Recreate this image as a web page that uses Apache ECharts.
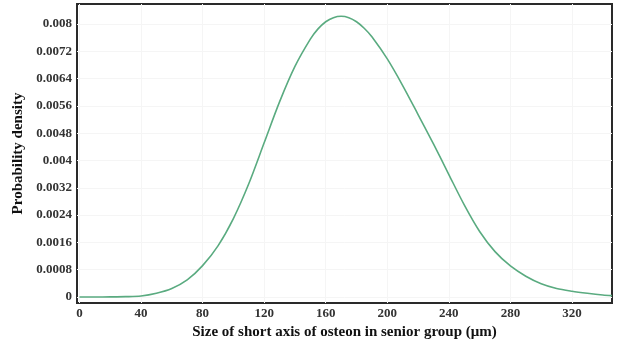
<!DOCTYPE html>
<html>
<head>
<meta charset="utf-8">
<script src="https://cdn.jsdelivr.net/npm/echarts@6/dist/echarts.min.js"></script>
<style>html,body{margin:0;padding:0;background:#fff}#c{width:618px;height:342px}</style>
</head>
<body>
<div id="c"></div>
<script>
// Curve sample points
const sizes = [0, 10, 20, 30, 40, 50, 60, 70, 80, 90, 100, 110, 120, 130, 140, 150, 155, 160, 165, 170, 175, 180, 185, 190, 200, 210, 220, 230, 240, 250, 260, 270, 280, 290, 300, 310, 320, 330, 340, 346];
const density = [0, 0, 0.000003, 0.00001, 0.00003, 0.00011, 0.00025, 0.00050, 0.00092, 0.00150, 0.00230, 0.00332, 0.00452, 0.00572, 0.00676, 0.00756, 0.00786, 0.00807, 0.00819, 0.00823, 0.00819, 0.00807, 0.00788, 0.00763, 0.00698, 0.00620, 0.00535, 0.00449, 0.00359, 0.00270, 0.00192, 0.00133, 0.00091, 0.00061, 0.00039, 0.00025, 0.00017, 0.00011, 0.00006, 0.00004];
const xTicks = [0, 40, 80, 120, 160, 200, 240, 280, 320];
const yTicks = [0, 0.0008, 0.0016, 0.0024, 0.0032, 0.004, 0.0048, 0.0056, 0.0064, 0.0072, 0.008];
const xTitle = 'Size of short axis of osteon in senior group (μm)';
const yTitle = 'Probability density';

const chart = echarts.init(document.getElementById('c'), null, {renderer: 'canvas'});
const font = 'Liberation Serif';
const fmtY = v => {
  for (const t of yTicks) if (Math.abs(t - v) < 1e-9) return String(t);
  return '';
};
chart.setOption({
  animation: false,
  backgroundColor: '#fff',
  grid: {left: 77, right: 6, top: 4, bottom: 39, outerBoundsMode: 'none', containLabel: false, show: true, borderColor: '#2a2a2a', borderWidth: 2, backgroundColor: 'transparent'},
  xAxis: {
    type: 'value', min: -1.6, max: 346,
    name: xTitle, nameLocation: 'middle', nameGap: 20,
    nameTextStyle: {fontFamily: font, fontWeight: 'bold', fontSize: 15, color: '#111'},
    axisLine: {show: false},
    axisTick: {show: false, customValues: xTicks},
    axisLabel: {customValues: xTicks, fontFamily: font, fontWeight: 'bold', fontSize: 13, color: '#333', margin: 4},
    splitLine: {show: true, lineStyle: {color: '#f5f5f5', width: 1}}
  },
  yAxis: {
    type: 'value', min: -0.000176, max: 0.00859,
    name: yTitle, nameLocation: 'middle', nameGap: 51, nameRotate: 90,
    nameTextStyle: {fontFamily: font, fontWeight: 'bold', fontSize: 15, color: '#111'},
    axisLine: {show: false},
    axisTick: {show: false, customValues: yTicks},
    axisLabel: {customValues: yTicks, formatter: fmtY, fontFamily: font, fontWeight: 'bold', fontSize: 13, color: '#333', margin: 5},
    splitLine: {show: true, lineStyle: {color: '#f5f5f5', width: 1}}
  },
  series: [{
    type: 'line',
    data: sizes.map((s, i) => [s, density[i]]),
    smooth: 0.3,
    showSymbol: false,
    lineStyle: {color: '#5aab80', width: 1.6},
    z: 3
  }]
});
</script>
</body>
</html>
